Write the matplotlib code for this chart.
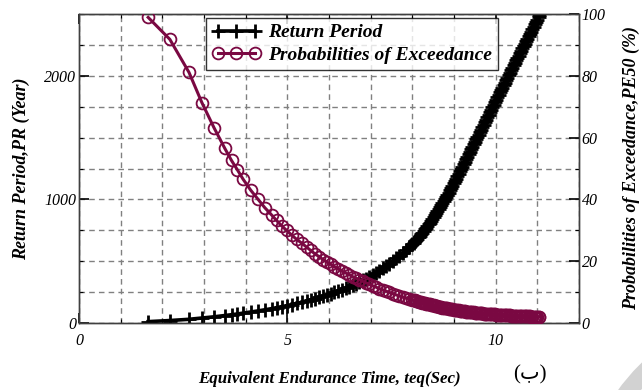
import matplotlib
matplotlib.use("Agg")
import matplotlib.pyplot as plt
from matplotlib.patches import Ellipse

# Equivalent endurance time (s)
teq = [1.66, 2.18, 2.64, 2.95, 3.24, 3.50, 3.66, 3.80, 3.94, 4.12,
       4.30, 4.46, 4.62, 4.74, 4.86, 4.98, 5.10, 5.22, 5.34, 5.46,
       5.56, 5.66, 5.76, 5.86, 5.95, 6.04, 6.13, 6.22, 6.31, 6.40,
       6.49, 6.57, 6.65, 6.73, 6.81, 6.89, 6.97, 7.05, 7.13, 7.21,
       7.29, 7.37, 7.45, 7.53, 7.61, 7.69, 7.77, 7.85, 7.93, 8.00,
       8.03, 8.06, 8.09, 8.12, 8.15, 8.18, 8.21, 8.24, 8.27, 8.30,
       8.33, 8.36, 8.39, 8.42, 8.45, 8.48, 8.51, 8.54, 8.57, 8.60,
       8.63, 8.66, 8.69, 8.72, 8.75, 8.78, 8.81, 8.84, 8.87, 8.90,
       8.93, 8.96, 8.99, 9.02, 9.05, 9.08, 9.11, 9.14, 9.17, 9.20,
       9.23, 9.26, 9.29, 9.32, 9.35, 9.38, 9.41, 9.44, 9.47, 9.50,
       9.53, 9.56, 9.59, 9.62, 9.65, 9.68, 9.71, 9.74, 9.77, 9.80,
       9.83, 9.86, 9.89, 9.92, 9.95, 9.98, 10.01, 10.04, 10.07, 10.10,
       10.13, 10.16, 10.19, 10.22, 10.25, 10.28, 10.31, 10.34, 10.37, 10.40,
       10.43, 10.46, 10.49, 10.52, 10.55, 10.58, 10.61, 10.64, 10.67, 10.70,
       10.73, 10.76, 10.79, 10.82, 10.85, 10.88, 10.91, 10.94, 10.97, 11.00,
       11.03, 11.05]

# Return period (years)
return_period = [11, 20, 30, 40, 50, 60, 67, 73, 80, 89,
                 98, 107, 116, 124, 132, 140, 149, 158, 167, 177,
                 187, 197, 207, 218, 228, 238, 249, 260, 271, 282,
                 295, 307, 319, 332, 345, 359, 374, 390, 406, 423,
                 441, 460, 480, 501, 522, 544, 567, 591, 615, 638,
                 649, 660, 671, 683, 695, 707, 719, 732, 745, 758,
                 771, 785, 799, 813, 827, 842, 857, 872, 887, 903,
                 919, 935, 951, 968, 985, 1002, 1019, 1037, 1055, 1073,
                 1091, 1110, 1129, 1148, 1167, 1187, 1206, 1226, 1245, 1265,
                 1285, 1305, 1325, 1345, 1365, 1385, 1405, 1425, 1445, 1465,
                 1485, 1505, 1525, 1545, 1565, 1585, 1605, 1625, 1645, 1665,
                 1685, 1705, 1725, 1745, 1765, 1785, 1805, 1825, 1845, 1865,
                 1885, 1905, 1925, 1945, 1965, 1985, 2005, 2025, 2045, 2065,
                 2085, 2104, 2124, 2143, 2163, 2182, 2202, 2221, 2241, 2260,
                 2280, 2299, 2319, 2338, 2358, 2377, 2397, 2416, 2436, 2455,
                 2475, 2495]

# Probability of exceedance in 50 years (%)
pe50 = [98.9, 91.8, 81.1, 71.3, 63.2, 56.5, 52.6, 49.6, 46.5, 43.0,
        40.0, 37.3, 35.0, 33.2, 31.5, 30.0, 28.5, 27.1, 25.9, 24.6,
        23.5, 22.4, 21.5, 20.5, 19.7, 19.0, 18.2, 17.5, 16.8, 16.2,
        15.6, 15.0, 14.5, 14.0, 13.5, 13.0, 12.5, 12.0, 11.6, 11.1,
        10.7, 10.3, 9.9, 9.5, 9.1, 8.8, 8.4, 8.1, 7.8, 7.5,
        7.4, 7.3, 7.2, 7.1, 6.9, 6.8, 6.7, 6.6, 6.5, 6.4,
        6.3, 6.2, 6.1, 6.0, 5.9, 5.8, 5.7, 5.6, 5.5, 5.4,
        5.3, 5.2, 5.1, 5.0, 4.95, 4.87, 4.79, 4.71, 4.63, 4.55,
        4.48, 4.40, 4.33, 4.26, 4.19, 4.12, 4.06, 4.00, 3.94, 3.88,
        3.82, 3.76, 3.70, 3.65, 3.60, 3.55, 3.50, 3.45, 3.40, 3.36,
        3.31, 3.27, 3.23, 3.18, 3.15, 3.11, 3.07, 3.03, 2.99, 2.96,
        2.92, 2.89, 2.86, 2.82, 2.79, 2.76, 2.73, 2.70, 2.67, 2.65,
        2.62, 2.59, 2.56, 2.54, 2.51, 2.49, 2.46, 2.44, 2.42, 2.39,
        2.37, 2.35, 2.33, 2.31, 2.29, 2.27, 2.25, 2.23, 2.21, 2.19,
        2.17, 2.15, 2.13, 2.12, 2.10, 2.08, 2.06, 2.05, 2.03, 2.02,
        2.00, 1.98]

x_ticks = [0, 5, 10]
pr_ticks = [0, 1000, 2000]
pe_ticks = [0, 20, 40, 60, 80, 100]

serif = "Liberation Serif"
maroon = "#7a0842"

fig = plt.figure(figsize=(6.42, 3.90), dpi=100)
ax = fig.add_axes([79 / 642, 1 - 323 / 390, 500 / 642, 309 / 390])
ax2 = ax.twinx()

l1, = ax.plot(teq, return_period, color="black", lw=2.6, marker="+",
              markersize=10, markeredgewidth=2.0, label="Return Period", zorder=3)
l2, = ax2.plot(teq, pe50, color=maroon, lw=2.2, marker="o", markersize=8.5,
               markerfacecolor="none", markeredgecolor=maroon, markeredgewidth=1.3,
               label="Probabilities of Exceedance", zorder=3)

ax.set_xlim(0, 12)
ax.set_ylim(0, 2500)
ax2.set_ylim(0, 100)

ax.set_xticks(x_ticks)
ax.set_xticks(range(0, 13), minor=True)
ax.set_yticks(pr_ticks)
ax.set_yticks(range(0, 2501, 250), minor=True)
ax2.set_yticks(pe_ticks)
ax2.set_yticks(range(0, 101, 10), minor=True)

ax.grid(True, which="both", linestyle=(0, (4, 3)), color="#808080", lw=1.0)

tick_font = dict(family=serif, style="italic", size=11.5)
ax.set_xticklabels([str(v) for v in x_ticks], **tick_font)
ax.set_yticklabels([str(v) for v in pr_ticks], **tick_font)
ax2.set_yticklabels([str(v) for v in pe_ticks], **tick_font)

ax.tick_params(which="major", direction="in", length=7, width=1.2, top=True)
ax.tick_params(which="minor", direction="in", length=3, width=0.8, top=True)
ax.tick_params(axis="y", which="major", pad=2)
ax.tick_params(axis="x", which="major", pad=7)
ax2.tick_params(which="major", direction="in", length=7, width=1.2, pad=2)
ax2.tick_params(which="minor", direction="in", length=3, width=0.8)

for a in (ax, ax2):
    for s in a.spines.values():
        s.set_color("#404040")
        s.set_linewidth(1.0)

ax.set_xlabel("Equivalent Endurance Time, teq(Sec)", labelpad=16,
              family=serif, style="italic", weight="bold", size=12.2)
ax.set_ylabel("Return Period,PR (Year)", labelpad=10,
              family=serif, style="italic", weight="bold", size=13)
ax2.set_ylabel("Probabilities of Exceedance,PE50 (%)", labelpad=12,
               family=serif, style="italic", weight="bold", size=13)

leg = ax.legend(handles=[l1, l2], loc="upper center", bbox_to_anchor=(0.546, 1.0),
                numpoints=3, frameon=True, fancybox=False, edgecolor="black",
                prop=dict(family=serif, style="italic", weight="bold", size=14),
                handlelength=2.5, handletextpad=0.4, borderpad=0.3, labelspacing=0.25,
                borderaxespad=0.2)
leg.get_frame().set_linewidth(1.0)
leg.set_zorder(5)

fig.text(530 / 642, 1 - 375 / 390, "(ب)", family=[serif, "DejaVu Sans"],
         size=15, ha="center", va="center")

# light grey ring mark in the lower right corner
fig.patches.append(Ellipse((652 / 642, 1 - 420 / 390), 80 / 642, 160 / 390,
                           angle=-20, fill=False, edgecolor="#d2d2d2", lw=13,
                           transform=fig.transFigure, figure=fig))

fig.savefig("out.png", dpi=100)
